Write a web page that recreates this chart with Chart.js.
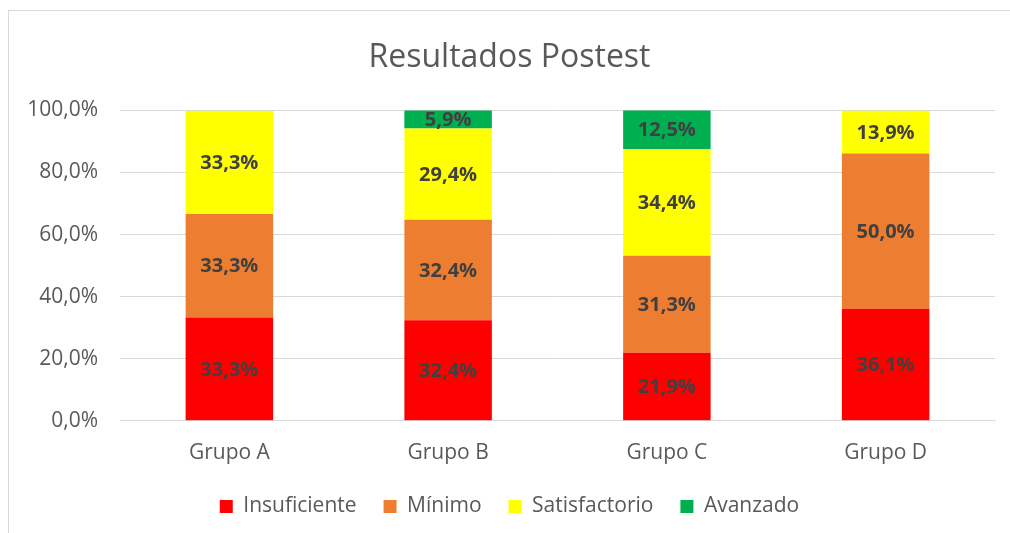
<!DOCTYPE html>
<html>
<head>
<meta charset="utf-8">
<script src="https://cdn.jsdelivr.net/npm/chart.js@4"></script>
<style>
  html, body { margin: 0; padding: 0; background: #fff; }
  #wrap { position: relative; width: 1010px; height: 533px; overflow: hidden; }
  #frame { position: absolute; left: 8px; top: 10px; width: 1020px; height: 540px; border: 1px solid #d9d9d9; }
  canvas { position: absolute; left: 0; top: 0; }
</style>
</head>
<body>
<div id="wrap">
  <div id="frame"></div>
  <canvas id="chart" width="1010" height="533"></canvas>
</div>
<script>
// categories and series (percent of each group)
const grupos = ['Grupo A', 'Grupo B', 'Grupo C', 'Grupo D'];
const insuficiente = [33.3, 32.4, 21.9, 36.1];
const minimo = [33.3, 32.4, 31.3, 50.0];
const satisfactorio = [33.3, 29.4, 34.4, 13.9];
const avanzado = [0, 5.9, 12.5, 0];
const yTicks = [0, 20, 40, 60, 80, 100];

function pct(v) {
    return v.toFixed(1).replace('.', ',') + '%';
}

// draws the value in the middle of each segment
const barLabels = {
    id: 'barLabels',
    afterDatasetsDraw(chart) {
        const ctx = chart.ctx;
        ctx.save();
        ctx.font = 'bold 20px "Open Sans"';
        ctx.fillStyle = '#404040';
        ctx.textAlign = 'center';
        ctx.textBaseline = 'middle';
        chart.data.datasets.forEach((ds, i) => {
            const meta = chart.getDatasetMeta(i);
            meta.data.forEach((bar, j) => {
                const v = ds.data[j];
                if (!v) return;
                const top = Math.max(bar.y, chart.chartArea.top);
                ctx.fillText(pct(v), bar.x, (top + bar.base) / 2 + 1);
            });
        });
        ctx.restore();
    }
};

const ctx = document.getElementById('chart').getContext('2d');
new Chart(ctx, {
    type: 'bar',
    data: {
        labels: grupos,
        datasets: [
            { label: 'Insuficiente', data: insuficiente, backgroundColor: '#ff0000' },
            { label: 'Mínimo', data: minimo, backgroundColor: '#ed7d31' },
            { label: 'Satisfactorio', data: satisfactorio, backgroundColor: '#ffff00' },
            { label: 'Avanzado', data: avanzado, backgroundColor: '#00b050' }
        ]
    },
    options: {
        responsive: false,
        animation: false,
        layout: { padding: { left: 24, right: 15, top: 0, bottom: 6 } },
        datasets: { bar: { categoryPercentage: 1, barPercentage: 0.4, borderWidth: 0 } },
        plugins: {
            title: {
                display: true,
                text: 'Resultados Postest',
                color: '#595959',
                font: { family: 'Open Sans', size: 32, weight: 'normal' },
                padding: { top: 39, bottom: 33 }
            },
            legend: {
                position: 'bottom',
                labels: {
                    color: '#595959',
                    font: { family: 'Open Sans', size: 21 },
                    boxWidth: 13,
                    boxHeight: 13,
                    padding: 27
                }
            },
            tooltip: { enabled: false }
        },
        scales: {
            x: {
                stacked: true,
                grid: { display: false, drawTicks: false },
                border: { color: '#d9d9d9' },
                ticks: { color: '#595959', font: { family: 'Open Sans', size: 21 }, padding: 20 },
                afterFit(axis) { axis.height -= 17; }
            },
            y: {
                stacked: true,
                min: 0,
                max: 100,
                afterBuildTicks(axis) {
                    axis.ticks = yTicks.map(v => ({ value: v }));
                },
                afterFit(axis) { axis.width = 96; },
                grid: { color: '#d9d9d9', drawTicks: false },
                border: { display: false },
                ticks: {
                    color: '#595959',
                    font: { family: 'Open Sans', size: 21 },
                    padding: 22,
                    callback: v => pct(v)
                }
            }
        }
    },
    plugins: [barLabels]
});
</script>
</body>
</html>
